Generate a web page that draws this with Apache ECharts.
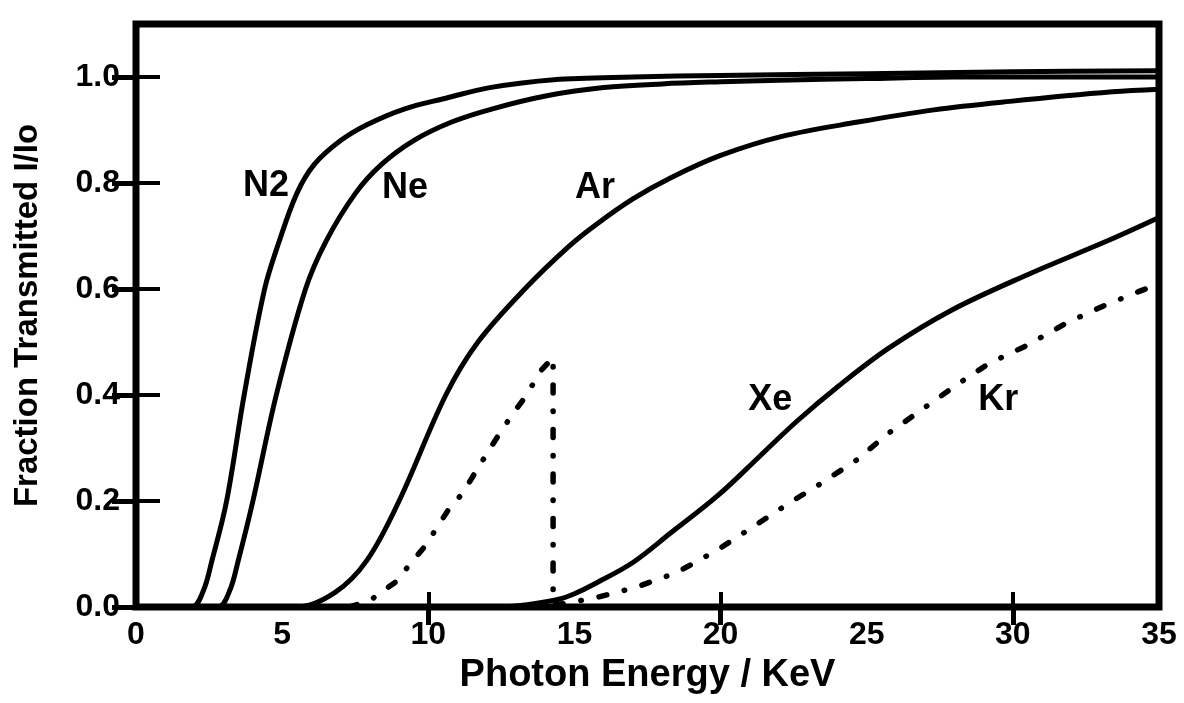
<!DOCTYPE html>
<html>
<head>
<meta charset="utf-8">
<title>Fraction Transmitted vs Photon Energy</title>
<script src="https://cdn.jsdelivr.net/npm/echarts@6/dist/echarts.min.js"></script>
<style>
  html, body { margin: 0; padding: 0; background: #fff; }
  #chart { width: 1184px; height: 703px; }
</style>
</head>
<body>
<div id="chart"></div>
<script>
// Photon energy (keV) and transmitted fraction I/Io for each gas
const n2Energy = [0, 1.9, 2.3, 2.6, 3.1, 3.7, 4.4, 4.9, 5.5, 6.1, 7.0, 7.9, 9.2, 10.6, 12.1, 14.3, 17, 20, 25, 30, 35];
const n2Trans  = [0, 0, 0.03, 0.088, 0.2, 0.4, 0.6, 0.69, 0.78, 0.835, 0.88, 0.91, 0.94, 0.96, 0.98, 0.995, 1.0, 1.003, 1.006, 1.01, 1.012];

const neEnergy = [0, 2.8, 3.2, 3.5, 4.0, 4.8, 5.8, 6.5, 7.5, 8.4, 9.5, 10.8, 12.2, 14.1, 16.0, 18, 20, 22, 25, 28, 35];
const neTrans  = [0, 0, 0.03, 0.088, 0.2, 0.4, 0.6, 0.69, 0.78, 0.835, 0.88, 0.915, 0.94, 0.965, 0.98, 0.987, 0.991, 0.994, 0.997, 1.0, 1.0];

const arEnergy = [0, 5.5, 6.8, 7.9, 9.0, 10.6, 11.7, 13.3, 14.8, 15.7, 17.0, 18.3, 20, 22.1, 24.7, 27.3, 29.9, 33.4, 35];
const arTrans  = [0, 0, 0.027, 0.088, 0.2, 0.4, 0.5, 0.6, 0.68, 0.72, 0.77, 0.81, 0.852, 0.888, 0.915, 0.938, 0.954, 0.972, 0.977];

const xeEnergy = [0, 12.5, 13.5, 14.5, 15.0, 15.7, 17.0, 18.3, 19.9, 21.35, 22.6, 24.06, 25.74, 27.9, 30.5, 33.2, 35];
const xeTrans  = [0, 0, 0.005, 0.015, 0.025, 0.044, 0.084, 0.14, 0.21, 0.285, 0.35, 0.418, 0.488, 0.56, 0.627, 0.69, 0.735];

// Krypton drops sharply at its K edge (~14.3 keV)
const krEnergy = [7.3, 8.0, 8.37, 8.88, 9.38, 9.83, 10.28, 10.67, 11.18, 11.63, 12.08, 12.47, 12.92, 13.37, 13.82, 14.27, 14.27,
                  15.0, 15.7, 17.1, 18.5, 19.9, 21.1, 22.4, 23.4, 24.7, 25.7, 26.9, 28.1, 29.2, 30.5, 31.8, 33.1, 34.3, 35];
const krTrans  = [0, 0.012, 0.027, 0.047, 0.081, 0.111, 0.148, 0.182, 0.215, 0.256, 0.296, 0.33, 0.367, 0.40, 0.444, 0.471, 0.003,
                  0.01, 0.017, 0.037, 0.065, 0.108, 0.151, 0.198, 0.232, 0.279, 0.326, 0.373, 0.42, 0.46, 0.494, 0.535, 0.568, 0.595, 0.61];

// Curve name labels, anchored in data coordinates [energy, fraction]
const curveNames = ['N2', 'Ne', 'Ar', 'Xe', 'Kr'];
const nameAnchors = [[4.45, 0.795], [9.2, 0.79], [15.7, 0.79], [21.7, 0.39], [29.5, 0.39]];

// Axis ticks
const xLabelTicks = [0, 5, 10, 15, 20, 25, 30, 35];
const xMarkTicks = [10, 20, 30];
const yTicks = [0, 0.2, 0.4, 0.6, 0.8, 1.0];

const FONT = "'Liberation Sans', Arial, Helvetica, sans-serif";

function pairs(xs, ys) { return xs.map((x, i) => [x, ys[i]]); }

function curve(name, xs, ys, idx, dashed) {
  return {
    name: name,
    type: 'line',
    data: pairs(xs, ys),
    showSymbol: false,
    smooth: dashed ? false : 0.35,
    lineStyle: dashed
      ? { color: '#000', width: 5.5, type: [8, 18, 0.5, 18], cap: 'round', join: 'round' }
      : { color: '#000', width: 5, join: 'round' },
    markPoint: {
      symbol: 'rect',
      symbolSize: 1,
      itemStyle: { color: 'rgba(0,0,0,0)' },
      label: {
        show: true, position: 'inside', formatter: '{b}',
        color: '#000', fontFamily: FONT, fontWeight: 'bold', fontSize: 36
      },
      data: [{ name: curveNames[idx], coord: nameAnchors[idx] }]
    },
    z: 3
  };
}

const chart = echarts.init(document.getElementById('chart'), null, { renderer: 'canvas' });

const axisText = { color: '#000', fontFamily: FONT, fontWeight: 'bold' };

chart.setOption({
  animation: false,
  backgroundColor: '#fff',
  grid: {
    left: 136, right: 25, top: 24, bottom: 96,
    show: true, borderColor: '#000', borderWidth: 7, backgroundColor: '#fff'
  },
  xAxis: [
    {
      type: 'value', position: 'bottom', min: 0, max: 35, interval: 5,
      axisLine: { show: false },
      splitLine: { show: false },
      axisTick: { show: true, inside: true, length: 15, customValues: xMarkTicks, lineStyle: { color: '#000', width: 4 } },
      axisLabel: Object.assign({ fontSize: 32, margin: 12, customValues: xLabelTicks, formatter: v => String(v) }, axisText),
      name: 'Photon Energy / KeV',
      nameLocation: 'middle',
      nameGap: 50,
      nameTextStyle: Object.assign({ fontSize: 38 }, axisText)
    },
    {
      type: 'value', position: 'top', min: 0, max: 35, interval: 10,
      axisLine: { show: false },
      splitLine: { show: false },
      axisTick: { show: true, inside: true, length: 18, customValues: xMarkTicks, lineStyle: { color: '#000', width: 5 } },
      axisLabel: { show: false }
    }
  ],
  yAxis: [
    {
      type: 'value', position: 'left', min: 0, max: 1.1, interval: 0.2,
      axisLine: { show: false },
      splitLine: { show: false },
      axisTick: { show: true, inside: true, length: 24, customValues: yTicks, lineStyle: { color: '#000', width: 4 } },
      axisLabel: Object.assign({ fontSize: 32, margin: 16, customValues: yTicks, formatter: v => v.toFixed(1) }, axisText),
      name: 'Fraction Transmitted I/Io',
      nameLocation: 'middle',
      nameRotate: 90,
      nameGap: 92,
      nameTextStyle: Object.assign({ fontSize: 33 }, axisText)
    },
    {
      type: 'value', position: 'right', min: 0, max: 1.1, interval: 0.2,
      axisLine: { show: false },
      splitLine: { show: false },
      axisTick: { show: true, inside: true, length: 24, customValues: yTicks, lineStyle: { color: '#000', width: 5 } },
      axisLabel: { show: false }
    }
  ],
  series: [
    curve('N2', n2Energy, n2Trans, 0, false),
    curve('Ne', neEnergy, neTrans, 1, false),
    curve('Ar', arEnergy, arTrans, 2, false),
    curve('Xe', xeEnergy, xeTrans, 3, false),
    curve('Kr', krEnergy, krTrans, 4, true)
  ]
});
</script>
</body>
</html>
